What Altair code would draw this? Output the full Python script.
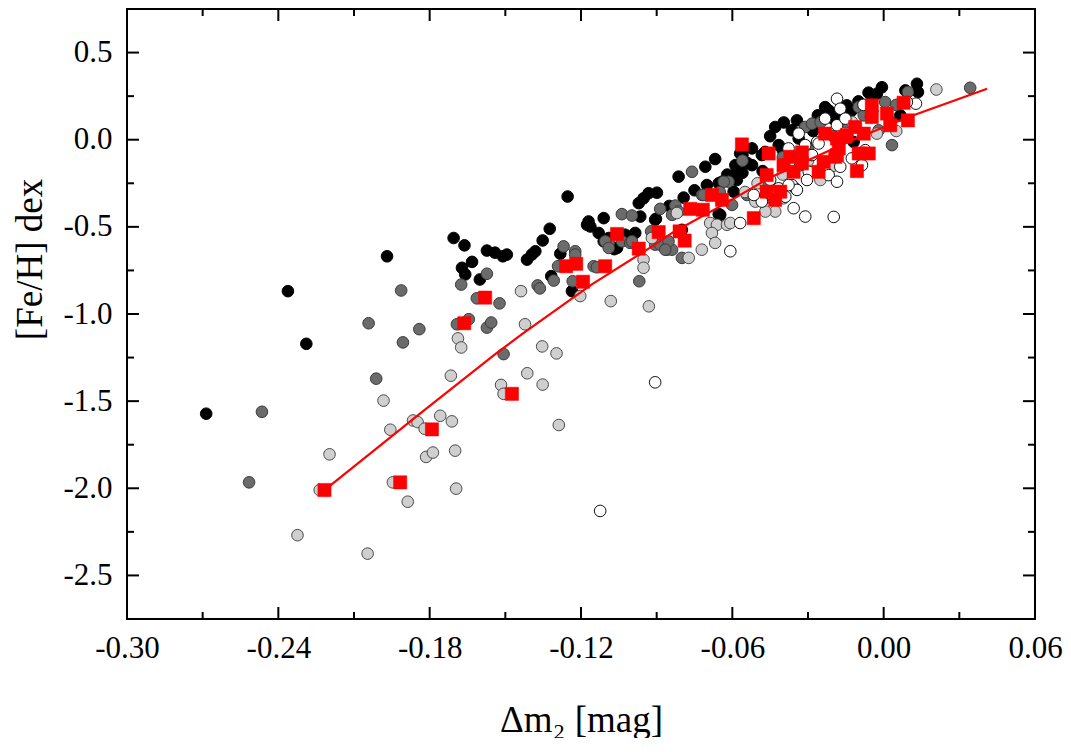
import altair as alt
import pandas as pd

# ---------------- data ----------------
black_x = [-0.2686, -0.2362, -0.2289, -0.1969, -0.1705, -0.1662, -0.1573, -0.1541, -0.1510, -0.1494,
           -0.1632, -0.1672, -0.1659, -0.1601, -0.1414, -0.1395, -0.1381, -0.1324, -0.1352, -0.1282,
           -0.1318, -0.1236, -0.1253, -0.1170, -0.1163, -0.1130, -0.1110, -0.1090, -0.1057, -0.1025,
           -0.0985, -0.0971, -0.0952, -0.0932, -0.0965, -0.0906, -0.1110, -0.1068, -0.1176, -0.0668,
           -0.0707, -0.0813, -0.0701, -0.0793, -0.0800, -0.0648, -0.0641, -0.0430, -0.0344, -0.0232,
           -0.0261, -0.0899, -0.0569, -0.0522, -0.0588, -0.0416, -0.0364, -0.0337, -0.0483, -0.0522,
           -0.0654, -0.0582, -0.0595, -0.0654, -0.0903, -0.0007, 0.0132, 0.0136, 0.0086, -0.0046,
           -0.0126, -0.0027, 0.0026, 0.0066, -0.0119, -0.0173, -0.0146, -0.0396, -0.0450, -0.0400,
           -0.0280, -0.0200, -0.0100, -0.0060, -0.0560, -0.0620, -0.0750, -0.0850, -0.0480,
           -0.0470, -0.0560, -0.0540, -0.0590, -0.0218]
black_y = [-1.572, -0.869, -1.171, -0.669, -0.564, -0.606, -0.636, -0.648, -0.669, -0.659,
           -0.701, -0.735, -0.773, -0.802, -0.688, -0.659, -0.640, -0.511, -0.578, -0.654,
           -0.783, -0.869, -0.326, -0.469, -0.498, -0.535, -0.450, -0.564, -0.621, -0.545,
           -0.535, -0.364, -0.336, -0.307, -0.441, -0.459, -0.583, -0.628, -0.488, -0.111,
           -0.155, -0.212, -0.260, -0.332, -0.517, -0.431, -0.241, 0.073, 0.111, 0.187,
           0.140, -0.304, -0.079, -0.050, -0.146, -0.031, 0.054, 0.007, -0.088, -0.146,
           -0.250, -0.231, -0.298, -0.427, -0.454, 0.301, 0.321, 0.273, 0.283, 0.235,
           0.168, 0.264, 0.102, 0.140, -0.013, 0.151, 0.197, 0.099, 0.020, -0.060,
           0.050, 0.120, 0.220, 0.270, -0.190, -0.200, -0.290, -0.380, -0.180,
           -0.070, -0.088, -0.134, -0.200, 0.168]

dark_x = [-0.2465, -0.2516, -0.2042, -0.1906, -0.1841, -0.2012, -0.1913, -0.1507, -0.1675, -0.1573,
          -0.1613, -0.1523, -0.1692, -0.1645, -0.1573, -0.1556, -0.1372, -0.1363, -0.1308, -0.1269,
          -0.1223, -0.1223, -0.1291, -0.1233, -0.1150, -0.1038, -0.0998, -0.0886, -0.0969, -0.1090,
          -0.1038, -0.1005, -0.0906, -0.0859, -0.0760, -0.0826, -0.0720, -0.0615, -0.0813, -0.1104,
          -0.1090, -0.0922, -0.0886, -0.0839, -0.0800, -0.1137, -0.0998, -0.0634, -0.0311, -0.0284,
          -0.0483, -0.0542, -0.0714, -0.0839, -0.0853, -0.0866, -0.0601, -0.0469, 0.0096, -0.0099,
          -0.0079, 0.0006, 0.0033, -0.0020, 0.0343, -0.0400, -0.0300, -0.0200, -0.0150, -0.0050,
          0.0050, -0.0250, -0.0560, -0.0650]
dark_y = [-1.561, -1.966, -1.053, -1.163, -1.087, -1.371, -0.865, -1.230, -0.831, -0.769,
          -0.910, -0.939, -1.059, -1.030, -1.078, -1.049, -0.836, -0.853, -0.808, -0.612,
          -0.640, -0.659, -0.726, -0.812, -0.726, -0.427, -0.435, -0.397, -0.812, -0.592,
          -0.583, -0.592, -0.602, -0.631, -0.184, -0.378, -0.317, -0.241, -0.412, -0.583,
          -0.621, -0.526, -0.602, -0.631, -0.678, -0.732, -0.583, -0.241, 0.073, 0.092,
          -0.250, -0.317, -0.317, -0.431, -0.583, -0.631, -0.374, -0.336, 0.273, 0.187,
          0.140, 0.216, -0.031, 0.054, 0.298, -0.100, -0.050, 0.020, 0.100, 0.150,
          0.200, 0.100, -0.120, -0.300]

light_x = [-0.1983, -0.1956, -0.2197, -0.2236, -0.2324, -0.2046, -0.1946, -0.1887, -0.1866, -0.1848,
           -0.1820, -0.1814, -0.1688, -0.1675, -0.1716, -0.1517, -0.1507, -0.1413, -0.1352, -0.1354,
           -0.1297, -0.1288, -0.1758, -0.1712, -0.1787, -0.1699, -0.1695, -0.1438, -0.1422, -0.1082,
           -0.1203, -0.0952, -0.0952, -0.0919, -0.0820, -0.0721, -0.0773, -0.0688, -0.0661, -0.0681,
           -0.0668, -0.0621, -0.0608, -0.0430, -0.0469, -0.0251, -0.0509, -0.0397, 0.0209, -0.0027,
           -0.0126, -0.0931, -0.0500, -0.0400, -0.0350, -0.0300, -0.0200, -0.0100, 0.0050, -0.0550,
           -0.0450]
light_y = [-1.497, -1.664, -1.805, -2.010, -2.269, -2.375, -1.966, -2.077, -1.611, -1.620,
           -1.658, -1.820, -1.140, -1.192, -1.354, -1.407, -1.458, -1.340, -1.405, -1.186,
           -1.226, -1.637, -1.584, -1.616, -1.795, -1.784, -2.002, -0.869, -1.059, -0.926,
           -0.897, -0.688, -0.735, -0.564, -0.421, -0.631, -0.678, -0.478, -0.488, -0.535,
           -0.592, -0.488, -0.478, -0.412, -0.412, -0.231, -0.355, -0.336, 0.288, 0.035,
           0.102, -0.956, -0.250, -0.200, -0.280, -0.120, -0.150, -0.080, 0.050, -0.300,
           -0.300]

white_x = [-0.0906, -0.1124, -0.0608, -0.0185, -0.0172, -0.0232, -0.0337, -0.0264, -0.0311, -0.0232,
           -0.0185, -0.0152, -0.0377, -0.0284, -0.0331, -0.0297, -0.0364, -0.0304, -0.0344, -0.0390,
           -0.0357, -0.0311, -0.0483, -0.0443, -0.0515, -0.0569, -0.0232, -0.0172, -0.0416, 0.0128,
           0.0092, -0.0086, -0.0073, -0.0126, -0.0198, -0.0080, -0.0050, -0.0450,
           -0.0258, -0.0218, -0.0185, -0.0377]
white_y = [-1.392, -2.130, -0.640, 0.235, 0.178, 0.121, 0.035, -0.013, -0.031, 0.035,
           0.083, 0.121, -0.050, -0.088, -0.146, -0.184, -0.260, -0.231, -0.288, -0.327,
           -0.393, -0.441, -0.355, -0.317, -0.317, -0.478, -0.184, -0.155, -0.279, 0.207,
           0.216, -0.146, -0.060, -0.107, -0.443, 0.200, 0.130, -0.230,
           -0.022, -0.203, -0.241, -0.260]

red_x = [-0.2217, -0.1917, -0.1474, -0.1791, -0.1580, -0.1663, -0.1259, -0.1219, -0.1192, -0.1104,
         -0.1057, -0.0971, -0.0892, -0.0809, -0.0789, -0.0767, -0.0717, -0.0681, -0.0641, -0.0562,
         -0.0456, -0.0370, -0.0324, -0.0397, -0.0357, -0.0324, -0.0258, -0.0238, -0.0192, -0.0232,
         -0.0185, -0.0146, -0.0464, -0.0464, -0.0410, -0.0430, -0.0515, -0.0047, 0.0079, 0.0096,
         -0.0047, 0.0013, 0.0026, -0.0113, -0.0152, -0.0079, -0.0178, -0.0185, -0.0059, -0.0099,
         -0.0106]
red_y = [-2.010, -1.966, -1.458, -1.662, -0.906, -1.053, -0.726, -0.712, -0.815, -0.726,
         -0.541, -0.625, -0.530, -0.526, -0.579, -0.397, -0.402, -0.317, -0.345, -0.027,
         -0.079, -0.098, -0.073, -0.146, -0.184, -0.136, -0.184, -0.127, -0.098, 0.035,
         0.007, 0.026, -0.203, -0.298, -0.298, -0.345, -0.450, 0.197, 0.212, 0.111,
         0.130, 0.150, 0.083, 0.073, 0.016, 0.035, -0.050, -0.088, -0.079, -0.079,
         -0.180]

curve_x = [-0.2217, -0.1831, -0.1540, -0.1434, -0.1157, -0.0918, -0.0839, -0.0602, -0.0456, -0.0126, 0.0099, 0.0410]
curve_y = [-2.010, -1.563, -1.230, -1.116, -0.830, -0.612, -0.535, -0.345, -0.221, -0.003, 0.130, 0.292]

x_major = [-0.30, -0.24, -0.18, -0.12, -0.06, 0.0, 0.06]
x_minor = [-0.27, -0.21, -0.15, -0.09, -0.03, 0.03]
y_major = [-2.5, -2.0, -1.5, -1.0, -0.5, 0.0, 0.5]
y_minor = [-2.25, -1.75, -1.25, -0.75, -0.25, 0.25]

# ---------------- chart ----------------
W, H = 908, 610
FONT = "Liberation Serif"
MAJ, MIN = 12, 7

xs = alt.Scale(domain=[-0.30, 0.06], nice=False, zero=False)
ys = alt.Scale(domain=[-2.75, 0.75], nice=False, zero=False)

x_axis = alt.Axis(values=x_major, title="Δm₂ [mag]", grid=False, ticks=False, domain=False,
                  labelExpr="replace(format(datum.value, '.2f'), '\u2212', '-')",
                  labelFont=FONT, labelFontSize=31, labelColor="black", labelPadding=14,
                  titleFont=FONT, titleFontSize=37, titleFontWeight="normal", titleColor="black",
                  titlePadding=39, labelFlush=False, labelOverlap=False)
y_axis = alt.Axis(values=y_major, title="[Fe/H] dex", grid=False, ticks=False, domain=False,
                  labelExpr="replace(format(datum.value, '.1f'), '\u2212', '-')",
                  labelFont=FONT, labelFontSize=31, labelColor="black", labelPadding=15,
                  titleFont=FONT, titleFontSize=37, titleFontWeight="normal", titleColor="black",
                  titleAngle=270, titleAlign="center", titleBaseline="middle",
                  titleX=-97, titleY=250, labelFlush=False, labelOverlap=False)

X = alt.X("x:Q", scale=xs, axis=x_axis)
Y = alt.Y("y:Q", scale=ys, axis=y_axis)


def pts(xv, yv):
    return pd.DataFrame({"x": xv, "y": yv})


def vals(v):
    return pd.DataFrame({"x": v, "y": v})


def xticks(v, length):
    base = alt.Chart(vals(v)).mark_rule(color="black", strokeWidth=2)
    bottom = base.encode(x=X, y=alt.value(H), y2=alt.value(H - length))
    top = base.encode(x=X, y=alt.value(0), y2=alt.value(length))
    return [bottom, top]


def yticks(v, length):
    base = alt.Chart(vals(v)).mark_rule(color="black", strokeWidth=2)
    left = base.encode(y=Y, x=alt.value(0), x2=alt.value(length))
    right = base.encode(y=Y, x=alt.value(W), x2=alt.value(W - length))
    return [left, right]


CSIZE = 135
black = alt.Chart(pts(black_x, black_y)).mark_point(shape="circle", filled=True, size=CSIZE, fill="black",
                                                     stroke="black", strokeWidth=1, opacity=1).encode(x=X, y=Y)
dark = alt.Chart(pts(dark_x, dark_y)).mark_point(shape="circle", filled=True, size=CSIZE, fill="#6b6b6b",
                                                  stroke="#3a3a3a", strokeWidth=1, opacity=1).encode(x=X, y=Y)
light = alt.Chart(pts(light_x, light_y)).mark_point(shape="circle", filled=True, size=CSIZE, fill="#cfcfcf",
                                                     stroke="#4a4a4a", strokeWidth=1, opacity=1).encode(x=X, y=Y)
white = alt.Chart(pts(white_x, white_y)).mark_point(shape="circle", filled=True, size=CSIZE, fill="white",
                                                     stroke="#111111", strokeWidth=1, opacity=1).encode(x=X, y=Y)
curve = alt.Chart(pts(curve_x, curve_y)).mark_line(color="#ff0000", strokeWidth=2.2).encode(x=X, y=Y)
red = alt.Chart(pts(red_x, red_y)).mark_point(shape="square", filled=True, size=175, fill="#ff0000",
                                               stroke="#ff0000", strokeWidth=0.5, opacity=1).encode(x=X, y=Y)

layers = (xticks(x_major, MAJ) + xticks(x_minor, MIN) + yticks(y_major, MAJ) + yticks(y_minor, MIN)
          + [black, dark, light, white, curve, red])

chart = alt.layer(*layers).properties(
    width=W, height=H, padding={"left": 3, "top": 0, "right": 0, "bottom": 0}
).configure(
    background="white",
    font=FONT,
    view=alt.ViewConfig(stroke="black", strokeWidth=2),
    axis=alt.AxisConfig(labelFont=FONT, titleFont=FONT, labelColor="black", titleColor="black"),
)

chart.save("out.html", embed_options={"renderer": "svg", "actions": False})
